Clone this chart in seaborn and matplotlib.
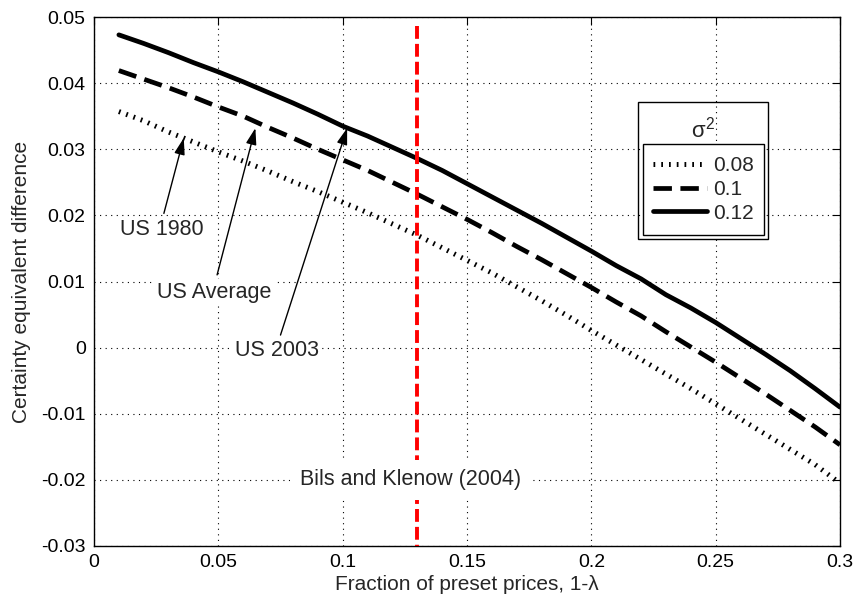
import numpy as np
import pandas as pd
import matplotlib
matplotlib.use("Agg")
import matplotlib.pyplot as plt
from matplotlib.patches import Rectangle
import seaborn as sns

# ---------------- data ----------------
frac_preset = [0.01, 0.02, 0.03, 0.04, 0.05, 0.06, 0.07, 0.08, 0.09, 0.10,
               0.11, 0.12, 0.13, 0.14, 0.15, 0.16, 0.17, 0.18, 0.19, 0.20,
               0.21, 0.22, 0.23, 0.24, 0.25, 0.26, 0.27, 0.28, 0.29, 0.30]
ce_sigma_008 = [0.0357, 0.0343, 0.0326, 0.0311, 0.0296, 0.0282, 0.0267, 0.0251, 0.0236, 0.0220,
                0.0204, 0.0187, 0.0170, 0.0151, 0.0132, 0.0113, 0.0092, 0.0071, 0.0049, 0.0026,
                0.0004, -0.0018, -0.0040, -0.0062, -0.0085, -0.0108, -0.0131, -0.0154, -0.0177, -0.0205]
ce_sigma_010 = [0.0419, 0.0406, 0.0393, 0.0379, 0.0364, 0.0350, 0.0333, 0.0317, 0.0300, 0.0284,
                0.0268, 0.0250, 0.0232, 0.0213, 0.0194, 0.0174, 0.0153, 0.0133, 0.0112, 0.0091,
                0.0069, 0.0048, 0.0024, 0.0001, -0.0022, -0.0046, -0.0070, -0.0095, -0.0120, -0.0147]
ce_sigma_012 = [0.0473, 0.0460, 0.0446, 0.0431, 0.0417, 0.0402, 0.0386, 0.0370, 0.0353, 0.0335,
                0.0320, 0.0303, 0.0286, 0.0268, 0.0248, 0.0228, 0.0208, 0.0188, 0.0167, 0.0146,
                0.0124, 0.0104, 0.0080, 0.0060, 0.0038, 0.0014, -0.0010, -0.0035, -0.0062, -0.0090]
sigma_labels = ["0.08", "0.1", "0.12"]

bk_x = [0.13, 0.13]            # Bils and Klenow (2004)
bk_y = [0.0486, -0.03]

x_ticks = [0, 0.05, 0.10, 0.15, 0.20, 0.25, 0.30]
x_tick_labels = ["0", "0.05", "0.1", "0.15", "0.2", "0.25", "0.3"]
y_ticks = [-0.03, -0.02, -0.01, 0, 0.01, 0.02, 0.03, 0.04, 0.05]
y_tick_labels = ["-0.03", "-0.02", "-0.01", "0", "0.01", "0.02", "0.03", "0.04", "0.05"]

# ---------------- style ----------------
sns.set_style("white")
plt.rcParams["font.family"] = ["Liberation Sans", "DejaVu Sans"]
plt.rcParams["axes.unicode_minus"] = False
plt.rcParams["mathtext.fontset"] = "custom"
plt.rcParams["mathtext.rm"] = "Liberation Sans"
plt.rcParams["mathtext.it"] = "Liberation Sans"

fig = plt.figure(figsize=(8.59, 6.06), dpi=100)
ax = fig.add_axes([94 / 859, 1 - 546 / 606, 746 / 859, 529 / 606])

df = pd.DataFrame({"x": frac_preset, "s08": ce_sigma_008,
                   "s10": ce_sigma_010, "s12": ce_sigma_012})

sns.lineplot(data=df, x="x", y="s08", ax=ax, color="black", lw=3.6,
             linestyle=(0, (0.35, 1.2)), dash_capstyle="butt",
             label=sigma_labels[0], legend=False, estimator=None)
sns.lineplot(data=df, x="x", y="s10", ax=ax, color="black", lw=3.4,
             linestyle=(0, (3.9, 1.8)), dash_capstyle="butt",
             label=sigma_labels[1], legend=False, estimator=None)
sns.lineplot(data=df, x="x", y="s12", ax=ax, color="black", lw=3.4,
             linestyle="-", label=sigma_labels[2], legend=False, estimator=None)

sns.lineplot(x=bk_x, y=bk_y, ax=ax, color="red", lw=2.8,
             linestyle=(0, (3.3, 1.3)), dash_capstyle="butt", zorder=3,
             legend=False, estimator=None, sort=False)

ax.set_xlim(0, 0.3)
ax.set_ylim(-0.03, 0.05)
ax.set_xticks(x_ticks)
ax.set_xticklabels(x_tick_labels)
ax.set_yticks(y_ticks)
ax.set_yticklabels(y_tick_labels)
ax.tick_params(direction="in", length=6, width=0.8, top=True, right=True,
               labelsize=14, colors="black", pad=6)
ax.grid(True, linestyle=(0, (1, 4)), color="black", lw=0.8)
for s in ax.spines.values():
    s.set_color("black")
    s.set_linewidth(1.0)

ax.set_xlabel("Fraction of preset prices, 1-λ", fontsize=15)
ax.set_ylabel("Certainty equivalent difference", fontsize=15)
ax.xaxis.set_label_coords(0.5, -0.055)
ax.xaxis.label.set_va("top")
ax.yaxis.set_label_coords(-0.097, 0.5)
ax.yaxis.label.set_va("center")

# annotations
ann_kw = dict(arrowstyle="-|>,head_length=1.0,head_width=0.32", color="black",
              lw=1.0, shrinkA=0, shrinkB=0)
txt_bbox = dict(facecolor="white", edgecolor="none", pad=1.5)
ax.annotate("", xy=(0.0361, 0.0317), xytext=(0.0281, 0.0203), arrowprops=ann_kw)
ax.text(0.0272, 0.0178, "US 1980", ha="center", va="center", fontsize=15.5,
        bbox=txt_bbox, zorder=4)
ax.annotate("", xy=(0.0649, 0.0332), xytext=(0.0495, 0.0110), arrowprops=ann_kw)
ax.text(0.0485, 0.0084, "US Average", ha="center", va="center", fontsize=15.5,
        bbox=txt_bbox, zorder=4)
ax.annotate("", xy=(0.1018, 0.0332), xytext=(0.0750, 0.0019), arrowprops=ann_kw)
ax.text(0.0736, -0.0004, "US 2003", ha="center", va="center", fontsize=15.5,
        bbox=txt_bbox, zorder=4)

ax.text(0.1272, -0.0200, "Bils and Klenow (2004)", ha="center", va="center",
        fontsize=15.5, zorder=6,
        bbox=dict(facecolor="white", edgecolor="none", pad=7))

# legend (MATLAB style double box)
inner = (0.7355, 0.588, 0.898 - 0.7355, 0.760 - 0.588)
outer = (0.7288, 0.580, 0.9039 - 0.7288, 0.840 - 0.580)
ax.add_patch(Rectangle(outer[:2], outer[2], outer[3], transform=ax.transAxes,
                       fill=False, edgecolor="black", lw=1.0, zorder=7))
ax.add_patch(Rectangle(inner[:2], inner[2], inner[3], transform=ax.transAxes,
                       facecolor="white", edgecolor="black", lw=1.0, zorder=7))
ax.text(outer[0] + outer[2] / 2, 0.7875, r"$\sigma^2$", transform=ax.transAxes,
        ha="center", va="center", fontsize=16, zorder=8)
handles, labels = ax.get_legend_handles_labels()
leg = ax.legend(handles[:3], labels[:3], loc="center", bbox_to_anchor=inner,
                bbox_transform=ax.transAxes, frameon=False, fontsize=15,
                handlelength=2.6, handletextpad=0.3, labelspacing=0.22,
                borderpad=0, borderaxespad=0)
leg.set_zorder(8)

fig.savefig("out.png", dpi=100, facecolor="white")
